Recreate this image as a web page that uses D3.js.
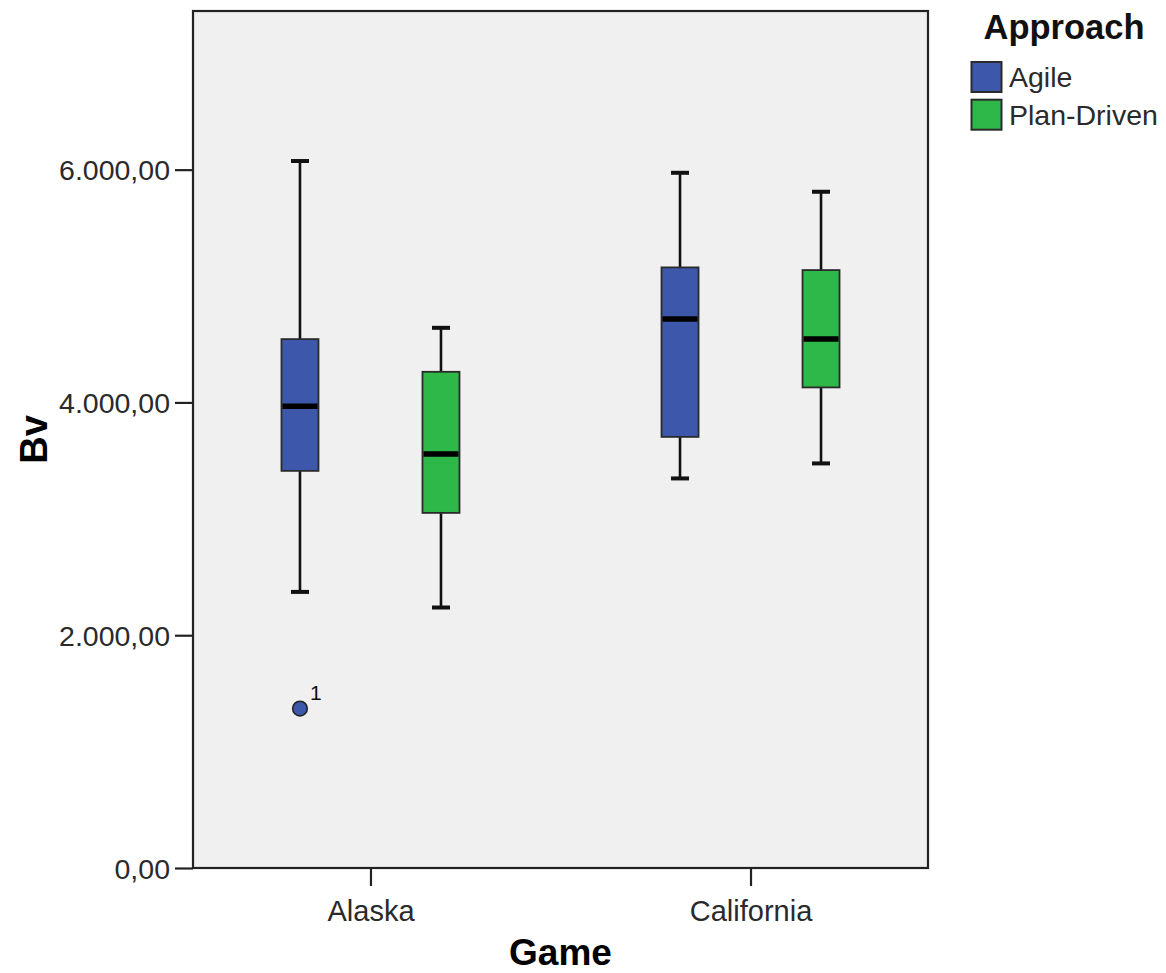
<!DOCTYPE html>
<html>
<head>
<meta charset="utf-8">
<script src="https://cdn.jsdelivr.net/npm/d3@7/dist/d3.min.js"></script>
<style>
  html, body { margin: 0; padding: 0; background: #fff; }
  svg { display: block; font-family: "Liberation Sans", Arial, sans-serif; }
</style>
</head>
<body>
<svg id="chart" width="1166" height="973"></svg>
<script>
// ---- Data ----
const categories = ["Alaska", "California"];
const series = ["Agile", "Plan-Driven"];
const seriesColors = ["#3d57aa", "#2eb84a"];
// five-number summaries per category, per series: [lowerWhisker, Q1, median, Q3, upperWhisker]
const alaskaAgile = [2372, 3412, 3968, 4544, 6074];
const alaskaPlan = [2238, 3051, 3556, 4263, 4641];
const californiaAgile = [3347, 3704, 4716, 5160, 5973];
const californiaPlan = [3476, 4129, 4544, 5137, 5810];
const outliers = [{ game: "Alaska", approach: "Agile", value: 1370, label: "1" }];
const yTicks = [0, 2000, 4000, 6000];
const yMax = 7363;

const boxes = [
  { game: "Alaska", approach: "Agile", s: alaskaAgile },
  { game: "Alaska", approach: "Plan-Driven", s: alaskaPlan },
  { game: "California", approach: "Agile", s: californiaAgile },
  { game: "California", approach: "Plan-Driven", s: californiaPlan }
];

// ---- Layout ----
const svg = d3.select("#chart");
const L = 193, R = 928, T = 11, B = 868;

const y = d3.scaleLinear().domain([0, yMax]).range([B, T]);
const x0 = d3.scalePoint().domain(categories).range([L, R]).padding(0.467);
const x1 = d3.scalePoint().domain(series).range([-70.5, 70.5]);
const color = d3.scaleOrdinal().domain(series).range(seriesColors);

const fmt = v => {
  const s = d3.format(",.2f")(v); // 6,000.00
  return s.replace(/,/g, "#").replace(/\./g, ",").replace(/#/g, ".");
};

// plot background
svg.append("rect").attr("x", L).attr("y", T).attr("width", R - L).attr("height", B - T)
  .attr("fill", "#f0f0f0");

// y axis
const yAxis = svg.append("g").attr("transform", `translate(${L},0)`)
  .call(d3.axisLeft(y).tickValues(yTicks).tickFormat(fmt).tickSize(18).tickPadding(5));
yAxis.select(".domain").remove();
yAxis.selectAll(".tick line").attr("stroke", "#222").attr("stroke-width", 2.2);
yAxis.selectAll(".tick text").attr("font-size", 28.5).attr("fill", "#2a2a2a")
  .attr("font-family", "Liberation Sans, Arial, sans-serif").attr("dy", "0.36em");

// x axis
const xAxis = svg.append("g").attr("transform", `translate(0,${B})`)
  .call(d3.axisBottom(x0).tickSize(18).tickPadding(14));
xAxis.select(".domain").remove();
xAxis.selectAll(".tick line").attr("stroke", "#222").attr("stroke-width", 2.2);
xAxis.selectAll(".tick text").attr("font-size", 29).attr("fill", "#2a2a2a")
  .attr("font-family", "Liberation Sans, Arial, sans-serif");

// frame
svg.append("rect").attr("x", L).attr("y", T).attr("width", R - L).attr("height", B - T)
  .attr("fill", "none").attr("stroke", "#222").attr("stroke-width", 2.2);

// boxes
const boxW = 37, capW = 18;
const g = svg.append("g");
boxes.forEach(d => {
  const cx = x0(d.game) + x1(d.approach);
  const [lo, q1, med, q3, hi] = d.s;
  // whiskers
  g.append("line").attr("x1", cx).attr("x2", cx).attr("y1", y(hi)).attr("y2", y(q3))
    .attr("stroke", "#111").attr("stroke-width", 2.6);
  g.append("line").attr("x1", cx).attr("x2", cx).attr("y1", y(q1)).attr("y2", y(lo))
    .attr("stroke", "#111").attr("stroke-width", 2.6);
  [hi, lo].forEach(v => {
    g.append("line").attr("x1", cx - capW / 2).attr("x2", cx + capW / 2)
      .attr("y1", y(v)).attr("y2", y(v)).attr("stroke", "#111").attr("stroke-width", 4);
  });
  // box
  g.append("rect").attr("x", cx - boxW / 2).attr("width", boxW)
    .attr("y", y(q3)).attr("height", y(q1) - y(q3))
    .attr("fill", color(d.approach)).attr("stroke", "#2a2a2a").attr("stroke-width", 1.8);
  // median
  g.append("line").attr("x1", cx - boxW / 2 + 1).attr("x2", cx + boxW / 2 - 1)
    .attr("y1", y(med)).attr("y2", y(med)).attr("stroke", "#000").attr("stroke-width", 5.5);
});

// outliers
outliers.forEach(o => {
  const cx = x0(o.game) + x1(o.approach);
  g.append("circle").attr("cx", cx).attr("cy", y(o.value)).attr("r", 7.3)
    .attr("fill", color(o.approach)).attr("stroke", "#222").attr("stroke-width", 1.6);
  g.append("text").attr("x", cx + 10).attr("y", y(o.value) - 9)
    .attr("font-size", 21).attr("fill", "#111").text(o.label);
});

// axis titles
svg.append("text").attr("x", (L + R) / 2).attr("y", 965).attr("text-anchor", "middle")
  .attr("font-size", 37).attr("font-weight", "bold").attr("fill", "#000").text("Game");
svg.append("text").attr("transform", `translate(47,${(T + B) / 2}) rotate(-90)`)
  .attr("text-anchor", "middle").attr("font-size", 38).attr("font-weight", "bold")
  .attr("fill", "#000").text("Bv");

// legend
const lg = svg.append("g");
lg.append("text").attr("x", 1064).attr("y", 39).attr("text-anchor", "middle")
  .attr("font-size", 34.5).attr("font-weight", "bold").attr("fill", "#111").text("Approach");
series.forEach((s, i) => {
  const yy = 62 + i * 37.7;
  lg.append("rect").attr("x", 971.5).attr("y", yy).attr("width", 30).attr("height", 30)
    .attr("fill", color(s)).attr("stroke", "#2a2a2a").attr("stroke-width", 2);
  lg.append("text").attr("x", 1009).attr("y", yy + 25).attr("font-size", 28.5)
    .attr("fill", "#2a2a2a").text(s);
});
</script>
</body>
</html>
